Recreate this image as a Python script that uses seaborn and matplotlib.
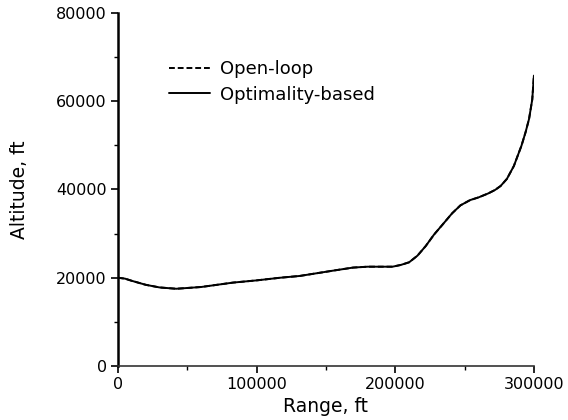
import matplotlib
matplotlib.use("Agg")
import matplotlib.pyplot as plt
from matplotlib.ticker import MultipleLocator
import seaborn as sns
import pandas as pd

range_ft = [0, 5000, 10000, 20000, 30000, 42000, 60000, 83000, 100000, 117000, 131000,
            141000, 155000, 169500, 180000, 189000, 198000, 204000, 210000, 216000,
            222000, 228000, 234000, 241000, 247000, 254000, 260000, 267000, 272000,
            276000, 280500, 285500, 291000, 294000, 296500, 298800, 300000]
alt_optimality = [20000, 19800, 19300, 18400, 17800, 17500, 17900, 18900, 19400, 20000,
                  20400, 20900, 21600, 22300, 22500, 22500, 22500, 22900, 23500, 25000,
                  27200, 29800, 32000, 34600, 36400, 37600, 38200, 39100, 39900,
                  40800, 42400, 45300, 49900, 53000, 56000, 60400, 65800]
alt_openloop = list(alt_optimality)
series_names = ["Open-loop", "Optimality-based"]

df = pd.concat([
    pd.DataFrame({"Range": range_ft, "Altitude": alt_openloop, "Series": series_names[0]}),
    pd.DataFrame({"Range": range_ft, "Altitude": alt_optimality, "Series": series_names[1]}),
])

sns.set_theme(style="ticks")
plt.rcParams['font.family'] = ['DejaVu Sans']
plt.rcParams['text.color'] = 'black'
plt.rcParams['axes.labelcolor'] = 'black'

fig = plt.figure(figsize=(5.68, 4.2), dpi=100)
ax = fig.add_axes([0.2077, 0.1286, 0.7323, 0.8405])

sns.lineplot(data=df, x="Range", y="Altitude", hue="Series", style="Series",
             palette={"Open-loop": "black", "Optimality-based": "black"},
             dashes={"Open-loop": (3, 1.5), "Optimality-based": ""},
             sort=False, linewidth=1.4, ax=ax, legend=True)

ax.set_xlim(0, 300000)
ax.set_ylim(0, 80000)
ax.xaxis.set_major_locator(MultipleLocator(100000))
ax.xaxis.set_minor_locator(MultipleLocator(50000))
ax.yaxis.set_major_locator(MultipleLocator(20000))
ax.yaxis.set_minor_locator(MultipleLocator(10000))
ax.tick_params(which="major", direction="out", length=5, width=1.2, labelsize=11.5,
               pad=3, colors="black")
ax.tick_params(which="minor", direction="out", length=3, width=1.0, colors="black")
ax.spines["top"].set_visible(False)
ax.spines["right"].set_visible(False)
ax.spines["left"].set_linewidth(1.8)
ax.spines["bottom"].set_linewidth(1.2)
ax.spines["left"].set_color("black")
ax.spines["bottom"].set_color("#333333")

ax.set_xlabel("Range, ft", fontsize=13.5)
ax.set_ylabel("Altitude, ft", fontsize=13.5)
ax.yaxis.set_label_coords(-0.215, 0.50)
ax.xaxis.set_label_coords(0.50, -0.088)

leg = ax.legend(loc="center left", bbox_to_anchor=(0.1226, 0.8045), frameon=False,
                fontsize=13, handlelength=2.3, handletextpad=0.5, labelspacing=0.4,
                borderpad=0, borderaxespad=0)
for l in leg.get_lines():
    l.set_linewidth(1.4)

fig.savefig("out.png", dpi=100)
